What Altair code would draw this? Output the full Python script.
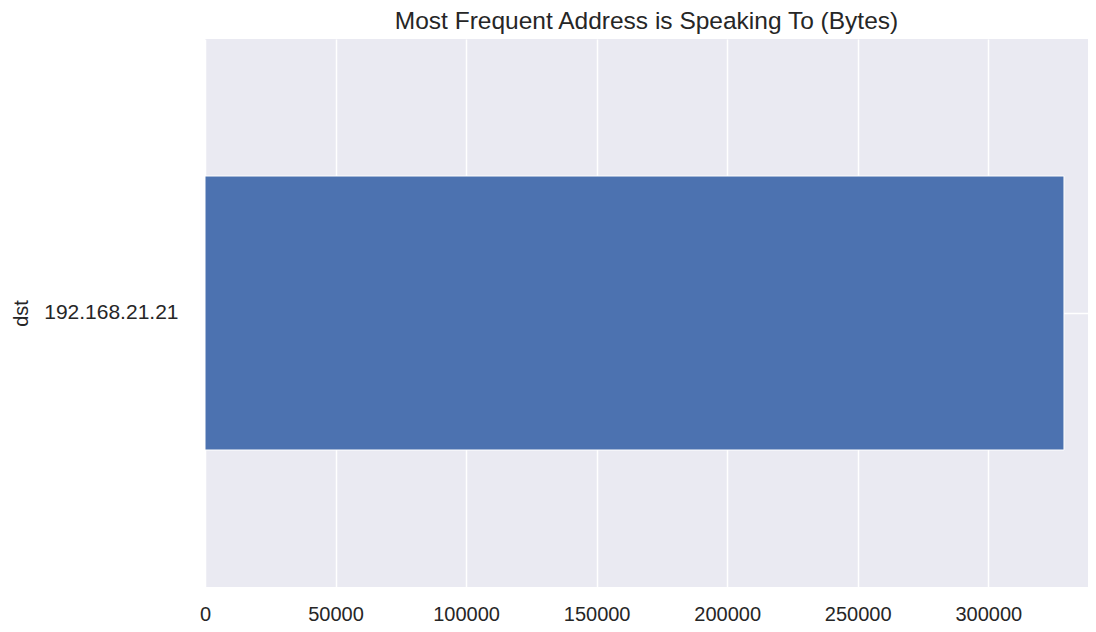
import altair as alt
import pandas as pd

categories = ["192.168.21.21"]
values = [329000]
x_ticks = [0, 50000, 100000, 150000, 200000, 250000, 300000]

df = pd.DataFrame({"dst": categories, "bytes": values})

FONT = "Liberation Sans"
TXT = "#262626"

chart = (
    alt.Chart(df)
    .mark_bar(color="#4C72B0", stroke="white", strokeWidth=1)
    .encode(
        x=alt.X(
            "bytes:Q",
            scale=alt.Scale(domain=[0, 338200], nice=False, zero=True),
            axis=alt.Axis(
                title=None,
                values=x_ticks,
                format="d",
                grid=True,
                gridColor="white",
                gridWidth=1.5,
                ticks=False,
                domain=False,
                labelFont=FONT,
                labelFontSize=20,
                labelColor=TXT,
                labelPadding=17,
                labelFlush=False,
            ),
        ),
        y=alt.Y(
            "dst:N",
            scale=alt.Scale(paddingInner=0.5, paddingOuter=0.25),
            axis=alt.Axis(
                title="dst",
                grid=True,
                gridColor="white",
                gridWidth=1.5,
                bandPosition=0.5,
                ticks=False,
                domain=False,
                labelFont=FONT,
                labelFontSize=21,
                labelColor=TXT,
                labelPadding=27,
                titleFont=FONT,
                titleFontSize=20,
                titleFontWeight="normal",
                titleColor=TXT,
                titlePadding=12,
            ),
        ),
    )
    .properties(
        width=883,
        height=548,
        title=alt.TitleParams(
            "Most Frequent Address is Speaking To (Bytes)",
            font=FONT,
            fontSize=24.5,
            fontWeight="normal",
            color=TXT,
            anchor="middle",
            offset=5,
        ),
        autosize=alt.AutoSizeParams(type="none"),
        padding={"left": 197, "top": 31, "right": 0, "bottom": 37},
        background="white",
    )
    .configure_view(fill="#EAEAF2", stroke=None)
)

chart.save("out.html", embed_options={"renderer": "svg", "actions": False})
